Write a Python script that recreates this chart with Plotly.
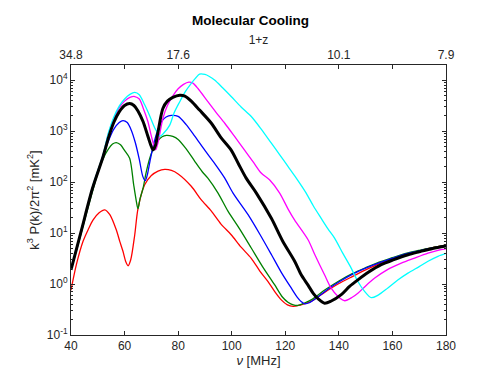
import plotly.graph_objects as go

# frequency [MHz] and k^3 P(k)/2pi^2 [mK^2]
nu_red = [40, 42, 44.5, 46.5, 48.2, 50.5, 52.6, 54.5, 56.9, 58.2, 59.4, 60.5, 61.3, 62.3, 63.8, 65, 67.5, 70,
          72.5, 75, 77.5, 80, 84.9, 88.5, 92.4, 96, 99.8, 103.5, 107.3, 110.5, 113.5, 116, 118.5, 120.8, 122.9,
          125, 127, 129.7, 134, 139.7, 145, 150, 155, 160, 165, 170, 175, 180]
p_red = [0.76, 2.4, 6.9, 12, 18, 25, 28.6, 23, 11.6, 6.9, 4.4, 2.7, 2.29, 3.0, 9.3, 30, 89, 135,
         165, 178, 170, 145, 83, 46, 27, 15, 9.3, 5.3, 3.2, 1.8, 1.13, 0.72, 0.49, 0.39, 0.365,
         0.38, 0.41, 0.46, 0.65, 1.0, 1.4, 1.9, 2.5, 3.1, 3.8, 4.5, 5.2, 5.8]

nu_green = [40, 42, 44, 46, 48, 50, 52, 54, 55.5, 56.9, 58.5, 60, 61.9, 63.4, 64.3, 65, 65.8, 66.9, 68, 69.4,
            70.5, 72, 74, 75.6, 78, 80, 83, 86.2, 89, 91.1, 94.9, 98.6, 103, 107.3, 111.5, 116, 119, 121, 123,
            124.7, 127, 130, 135, 140, 145, 150, 155, 160, 165, 170, 175, 180]
p_green = [1.9, 4.5, 11, 27, 65, 150, 290, 450, 560, 600, 540, 420, 295, 89, 45, 30, 48, 76, 150, 295,
           430, 610, 780, 830, 790, 690, 450, 257, 160, 120, 61, 27, 12, 5.1, 2.2, 0.97, 0.55, 0.44, 0.39,
           0.38, 0.42, 0.5, 0.78, 1.15, 1.6, 2.1, 2.7, 3.3, 4.0, 4.6, 5.2, 5.8]

nu_blue = [40, 44, 48, 50, 52, 54, 56, 58, 59.4, 61, 62.5, 64, 65.5, 66.8, 67.7, 68.5, 69.5, 71, 72.5, 74,
           75.5, 77.5, 80, 83, 86.2, 90, 93.6, 97.4, 100.5, 106.1, 110.5, 114.8, 118.5, 122.2, 124.5, 126,
           127.2, 129, 132, 136, 140, 145, 150, 155, 160, 165, 170, 175, 180]
p_blue = [1.9, 12, 72, 160, 320, 650, 1100, 1480, 1620, 1480, 1050, 600, 280, 130, 107, 140, 260, 600, 1100, 1600,
          1900, 2040, 1950, 1350, 800, 420, 234, 120, 61, 23, 9.5, 3.8, 1.7, 0.84, 0.55, 0.45,
          0.41, 0.43, 0.55, 0.8, 1.1, 1.55, 2.05, 2.6, 3.2, 3.9, 4.5, 5.1, 5.7]

nu_black = [40, 44, 48, 52, 54, 56, 58, 60, 61.9, 63.5, 65, 66.9, 68.7, 70.6, 71.5, 72.5, 74.3, 76, 78,
            80.6, 82.5, 84.9, 88, 92.4, 96, 99.8, 102.5, 105.4, 109.2, 114.8, 119, 123.5, 126, 128.5, 130.5,
            132.5, 134.7, 137, 140.9, 144, 147.1, 151, 155.8, 160, 165.8, 170, 175, 180]
p_black = [1.9, 12, 75, 320, 750, 1500, 2400, 3200, 3500, 3200, 2500, 1550, 800, 430, 520, 980, 2800, 3900, 4600,
           5100, 4900, 3900, 2600, 1435, 750, 427, 230, 120, 61, 19.5, 7, 2.8, 1.5, 0.95, 0.65,
           0.5, 0.42, 0.46, 0.62, 0.9, 1.21, 1.7, 2.4, 2.95, 3.76, 4.3, 5.0, 5.6]

nu_magenta = [40, 44, 48, 52, 54, 56, 58, 60, 62, 63.8, 65.5, 67, 68.7, 70, 71.6, 72.5, 74.3, 76, 78.1, 80,
              82, 84, 85.5, 87.4, 91.1, 94, 97.4, 101, 104.8, 108, 111, 114.2, 117.9, 121, 123.5, 128.5, 131,
              134.7, 137, 139.7, 142.2, 145, 147.1, 150, 153.4, 158, 163.3, 168, 173.3, 177, 180]
p_magenta = [1.9, 12, 78, 340, 900, 1750, 2900, 3900, 4600, 4800, 4300, 2800, 1550, 800, 430, 600, 1780, 3200, 5000, 6800,
             8300, 9200, 8800, 6900, 3800, 2400, 1435, 800, 427, 250, 151, 110, 61, 30, 18, 7.4, 3.8,
             1.5, 0.85, 0.57, 0.47, 0.55, 0.66, 0.92, 1.31, 1.9, 2.57, 3.2, 4.05, 4.6, 4.9]

nu_cyan = [40, 44, 48, 52, 54, 56, 58, 60, 62, 63.8, 65.5, 67.5, 69.4, 71.5, 73.3, 74.5, 76.8, 78.5, 80.6, 82.5,
           84.9, 86.5, 88, 90, 91.5, 93.6, 96.5, 99.8, 103.5, 107.3, 111, 114.8, 118, 121, 124.1, 127.8, 130.5,
           133.4, 136, 138.4, 141.5, 144.6, 147, 149.6, 152.1, 154.5, 158.3, 162, 165.8, 170, 173.3, 177, 180]
p_cyan = [1.9, 12, 80, 350, 950, 1900, 3100, 4300, 5300, 5800, 5200, 3300, 2000, 1100, 800, 900, 1300, 2300, 3800, 5800,
          8700, 11000, 13200, 13000, 12000, 10100, 7200, 4800, 3000, 1940, 1100, 582, 340, 204, 120, 61, 34,
          19.5, 12, 8, 4, 2.06, 1.15, 0.72, 0.54, 0.6, 0.84, 1.2, 1.64, 2.2, 2.8, 3.5, 4.0]

series = [
    (nu_red, p_red, "#ff0000", 1.3),
    (nu_green, p_green, "#008000", 1.3),
    (nu_blue, p_blue, "#0000ff", 1.3),
    (nu_magenta, p_magenta, "#ff00ff", 1.3),
    (nu_cyan, p_cyan, "#00ffff", 1.3),
    (nu_black, p_black, "#000000", 3),
]

top_vals = [40, 60, 80, 100, 120, 140, 160, 180]
top_text = ["34.8", "", "17.6", "", "", "10.1", "", "7.9"]

y_vals = [0.1, 1, 10, 100, 1000, 10000]
y_text = ["10<sup>-1</sup>", "10<sup>0</sup>", "10<sup>1</sup>", "10<sup>2</sup>", "10<sup>3</sup>", "10<sup>4</sup>"]
y_minor = [m * 10 ** e for e in range(-1, 5) for m in range(2, 10)]

fig = go.Figure()
for x, y, c, w in series:
    fig.add_trace(go.Scatter(x=x, y=y, mode="lines", line=dict(color=c, width=w, shape="spline", smoothing=0.8),
                             showlegend=False))
# invisible trace to bring up the top axis
fig.add_trace(go.Scatter(x=[40, 180], y=[1, 1], xaxis="x2", mode="lines", line=dict(width=0),
                         showlegend=False, hoverinfo="skip"))

axis_font = dict(family="Liberation Sans", size=12, color="#262626")
fig.update_layout(
    width=485, height=376,
    margin=dict(l=63, r=47, t=57, b=49),
    paper_bgcolor="white", plot_bgcolor="white",
    font=dict(family="Liberation Sans", size=12, color="#262626"),
    title=dict(text="<b>Molecular Cooling</b>", x=0.5, xanchor="center", y=0.968, yanchor="middle",
               font=dict(size=13.5, color="black")),
    xaxis=dict(range=[40, 180], tickvals=top_vals, ticks="inside", ticklen=4, tickcolor="#262626",
               showline=True, linecolor="#262626", linewidth=1, showgrid=False, zeroline=False,
               tickfont=axis_font, title=dict(text="<i>ν</i> [MHz]", standoff=3, font=dict(size=13))),
    xaxis2=dict(range=[40, 180], overlaying="x", side="top", tickvals=top_vals, ticktext=top_text,
                ticks="inside", ticklen=4, tickcolor="#262626", showline=True, linecolor="#262626",
                linewidth=1, showgrid=False, zeroline=False, tickfont=axis_font,
                title=dict(text="1+z", standoff=1, font=dict(size=12))),
    yaxis=dict(type="log", range=[-1, 4.3], tickvals=y_vals, ticktext=y_text, ticks="inside", ticklen=4,
               tickcolor="#262626", showline=True, linecolor="#262626", linewidth=1, mirror="ticks",
               showgrid=False, zeroline=False, tickfont=axis_font,
               minor=dict(tickvals=y_minor, ticks="inside", ticklen=2, tickcolor="#262626", showgrid=False),
               title=dict(text="k<sup>3</sup> P(k)/2π<sup>2</sup> [mK<sup>2</sup>]", standoff=4,
                          font=dict(size=13))),
)

fig.write_html("out.html")
